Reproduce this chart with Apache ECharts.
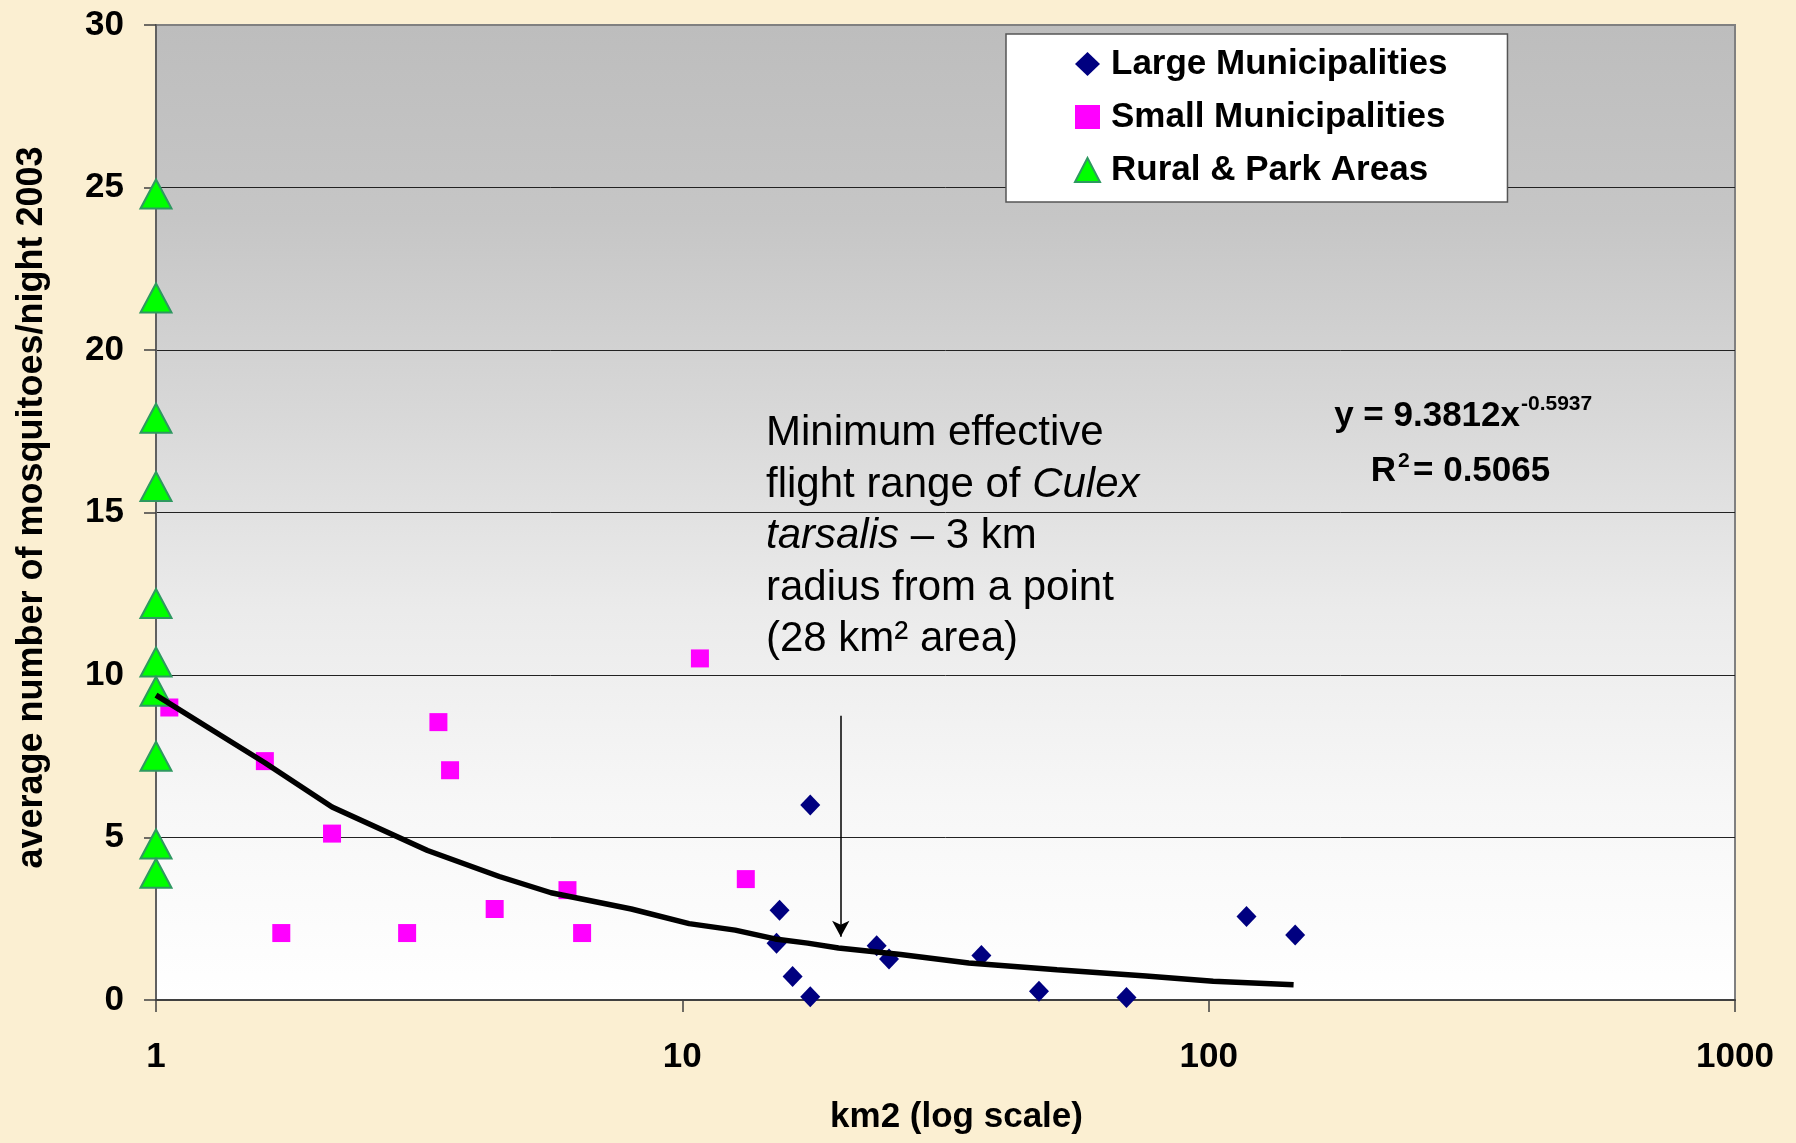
<!DOCTYPE html>
<html>
<head>
<meta charset="utf-8">
<script src="https://cdn.jsdelivr.net/npm/echarts@6/dist/echarts.min.js"></script>
<style>
html,body{margin:0;padding:0;background:#FBEFD2;}
#chart{width:1796px;height:1143px;}
</style>
</head>
<body>
<div id="chart"></div>
<script>
// ---- data ----
const largeX = [15.1, 15.3, 16.2, 17.5, 17.5, 23.4, 24.7, 37.0, 47.6, 69.8, 118, 146];
const largeY = [1.75, 2.76, 0.72, 6.0, 0.1, 1.67, 1.26, 1.37, 0.27, 0.08, 2.57, 2.0];
const smallX = [1.06, 1.61, 1.73, 2.16, 3.0, 3.44, 3.62, 4.4, 6.05, 6.45, 10.8, 13.2];
const smallY = [9.0, 7.35, 2.06, 5.12, 2.06, 8.55, 7.07, 2.8, 3.38, 2.06, 10.51, 3.72];
const ruralX = [1, 1, 1, 1, 1, 1, 1, 1, 1, 1];
const ruralY = [24.8, 21.6, 17.9, 15.8, 12.2, 10.4, 9.5, 7.5, 4.8, 3.9];
const trendX = [1, 1.31, 1.61, 2.16, 3.28, 4.49, 5.63, 8.0, 10.3, 12.6, 15.0, 17.3, 19.8, 26, 35, 51.5, 76, 102, 145];
const trendY = [9.38, 8.2, 7.3, 5.94, 4.6, 3.8, 3.3, 2.8, 2.35, 2.15, 1.88, 1.75, 1.6, 1.4, 1.14, 0.93, 0.74, 0.58, 0.47];
const arrowX = 20;
const arrowFromY = 8.75;
const arrowToY = 1.95;
const seriesNames = ['Large Municipalities', 'Small Municipalities', 'Rural & Park Areas'];
const xTicks = [1, 10, 100, 1000];
const yTicks = [0, 5, 10, 15, 20, 25, 30];

const zip = (xs, ys) => xs.map((x, i) => [x, ys[i]]);
const FF = '"Liberation Sans", Arial, sans-serif';

const chart = echarts.init(document.getElementById('chart'));
chart.setOption({
  animation: false,
  backgroundColor: '#FBEFD2',
  textStyle: { fontFamily: FF },
  grid: {
    left: 156, right: 61, top: 25, bottom: 143,
    show: true,
    backgroundColor: new echarts.graphic.LinearGradient(0, 0, 0, 1, [
      { offset: 0, color: '#BDBDBD' },
      { offset: 0.2, color: '#C6C6C6' },
      { offset: 0.4, color: '#D8D8D8' },
      { offset: 0.6, color: '#EBEBEB' },
      { offset: 0.8, color: '#F7F7F7' },
      { offset: 1, color: '#FFFFFF' }
    ]),
    borderColor: '#808080',
    borderWidth: 2
  },
  legend: {
    data: seriesNames,
    orient: 'vertical',
    left: 1006, top: 34,
    padding: [10, 60, 12, 68],
    itemGap: 13,
    itemWidth: 25, itemHeight: 24,
    backgroundColor: '#FFFFFF',
    borderColor: '#555555',
    borderWidth: 1.5,
    borderRadius: 0,
    textStyle: { fontSize: 35, fontWeight: 'bold', color: '#000', fontFamily: FF, lineHeight: 40, padding: [0, 0, 0, 6] }
  },
  xAxis: {
    type: 'log', logBase: 10, min: xTicks[0], max: xTicks[xTicks.length - 1],
    axisLine: { lineStyle: { color: '#404040', width: 2 } },
    axisTick: { show: true, length: 12, lineStyle: { color: '#404040', width: 1.5 } },
    minorTick: { show: false },
    splitLine: { show: false },
    axisLabel: { fontSize: 35, fontWeight: 'bold', color: '#000', margin: 40, fontFamily: FF,
      formatter: v => String(Math.round(v)) },
    name: 'km2 (log scale)',
    nameLocation: 'middle',
    nameGap: 100,
    nameTextStyle: { fontSize: 35, fontWeight: 'bold', color: '#000', fontFamily: FF, padding: [0, 0, 0, 22] }
  },
  yAxis: {
    type: 'value', min: yTicks[0], max: yTicks[yTicks.length - 1], interval: 5,
    axisLine: { show: true, lineStyle: { color: '#606060', width: 2 } },
    axisTick: { show: true, length: 12, lineStyle: { color: '#404040', width: 1.5 } },
    splitLine: { show: true, lineStyle: { color: ['#222', '#222', '#222', '#222', '#222', '#222', '#808080'], width: 1 } },
    axisLabel: { fontSize: 35, fontWeight: 'bold', color: '#000', margin: 32, fontFamily: FF },
    name: 'average number of mosquitoes/night 2003',
    nameLocation: 'middle',
    nameRotate: 90,
    nameGap: 106,
    nameTextStyle: { fontSize: 36, fontWeight: 'bold', color: '#000', fontFamily: FF, padding: [0, 0, 0, 10] }
  },
  series: [
    {
      name: seriesNames[0], type: 'scatter', symbol: 'diamond', symbolSize: [20, 21],
      itemStyle: { color: '#000080', opacity: 1 }, data: zip(largeX, largeY), z: 3
    },
    {
      name: seriesNames[1], type: 'scatter', symbol: 'rect', symbolSize: 18,
      itemStyle: { color: '#FF00FF', opacity: 1 }, data: zip(smallX, smallY), z: 3
    },
    {
      name: seriesNames[2], type: 'scatter', symbol: 'triangle', symbolSize: [31, 29],
      itemStyle: { color: '#00FF00', borderColor: '#2E9960', borderWidth: 2, opacity: 1 },
      data: zip(ruralX, ruralY), z: 3
    },
    {
      name: 'Power trend', type: 'line', data: zip(trendX, trendY),
      showSymbol: false, symbol: 'none', smooth: false, clip: false,
      lineStyle: { color: '#000', width: 5.5 }, z: 4, silent: true,
      markLine: {
        silent: true, symbol: ['none', 'arrow'], symbolSize: [13, 16],
        lineStyle: { color: '#000', width: 1.5, type: 'solid' },
        label: { show: false },
        data: [[{ coord: [arrowX, arrowFromY] }, { coord: [arrowX, arrowToY] }]]
      }
    }
  ],
  graphic: [
    {
      type: 'text', x: 766, y: 408, z: 10,
      style: {
        text: 'Minimum effective\nflight range of {i|Culex}\n{i|tarsalis} \u2013 3 km\nradius from a point\n(28 km\u00B2 area)',
        fontSize: 42, fontFamily: FF, fill: '#000', lineHeight: 51.5,
        align: 'left', verticalAlign: 'top',
        rich: { i: { fontStyle: 'italic', fontSize: 42, fontFamily: FF, lineHeight: 51.5, fill: '#000' } }
      }
    },
    {
      type: 'text', x: 1520, y: 416, z: 10,
      style: { text: 'y = 9.3812x', fontSize: 35, fontWeight: 'bold', fontFamily: FF, fill: '#000', align: 'right', verticalAlign: 'middle' }
    },
    {
      type: 'text', x: 1521, y: 404, z: 10,
      style: { text: '-0.5937', fontSize: 21, fontWeight: 'bold', fontFamily: FF, fill: '#000', align: 'left', verticalAlign: 'middle' }
    },
    {
      type: 'text', x: 1396, y: 471, z: 10,
      style: { text: 'R', fontSize: 35, fontWeight: 'bold', fontFamily: FF, fill: '#000', align: 'right', verticalAlign: 'middle' }
    },
    {
      type: 'text', x: 1398, y: 461, z: 10,
      style: { text: '2', fontSize: 21, fontWeight: 'bold', fontFamily: FF, fill: '#000', align: 'left', verticalAlign: 'middle' }
    },
    {
      type: 'text', x: 1413, y: 471, z: 10,
      style: { text: '= 0.5065', fontSize: 35, fontWeight: 'bold', fontFamily: FF, fill: '#000', align: 'left', verticalAlign: 'middle' }
    }
  ]
});
</script>
</body>
</html>
